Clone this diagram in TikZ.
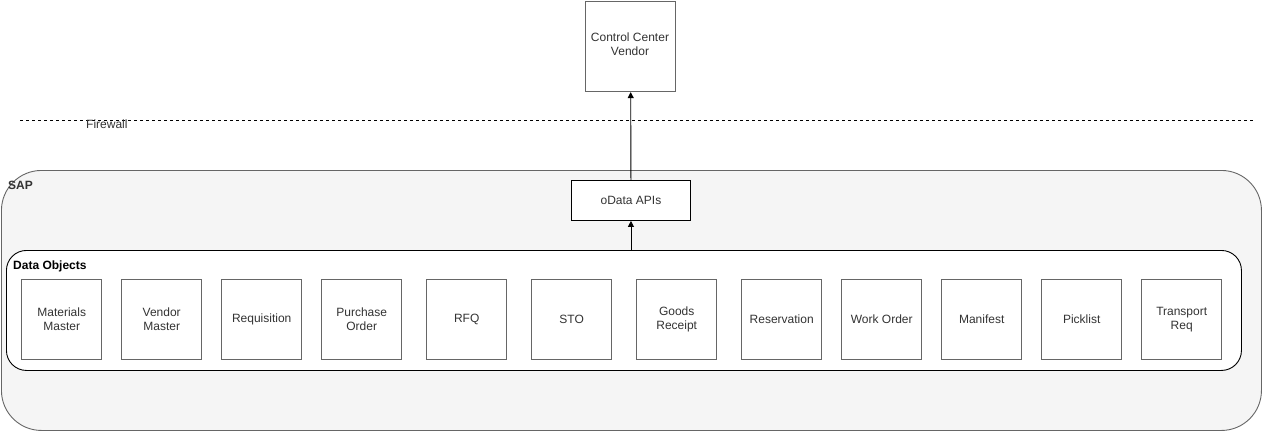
\documentclass[tikz,border=0pt]{standalone}
\usepackage{fontspec}
\setmainfont{Liberation Sans}
\usetikzlibrary{arrows.meta}
\definecolor{sapfill}{HTML}{F5F5F5}
\definecolor{sapline}{HTML}{666666}
\definecolor{txt}{HTML}{333333}
\begin{document}
\begin{tikzpicture}[x=1pt,y=-1pt,
  font=\fontsize{12}{14}\selectfont,
  objbox/.style={draw=sapline,line width=1.4pt,fill=white,minimum width=80pt,minimum height=80pt,inner sep=0pt,align=center,text=txt,anchor=north west},
  arr/.style={-{Triangle[length=6pt,width=6pt]},line width=0.9pt}]
\useasboundingbox (0,0) rectangle (1262,431);
% SAP container
\node[draw=sapline,fill=sapfill,rounded corners=40pt,line width=0.9pt,minimum width=1260pt,minimum height=260pt,anchor=north west,inner sep=0pt] (sap) at (1,170) {};
\node[anchor=north west,font=\fontsize{12}{14}\selectfont\bfseries,text=txt,inner sep=0pt] (saplbl) at (8,181) {SAP};
% Data Objects container
\node[draw=black,fill=white,rounded corners=20pt,line width=0.9pt,minimum width=1235pt,minimum height=120pt,anchor=north west,inner sep=0pt] (dobj) at (6,250) {};
\node[anchor=north west,font=\fontsize{12}{14}\selectfont\bfseries,text=black,inner sep=0pt] (dobjlbl) at (13,261) {Data Objects};
% boxes
\node[objbox] (b1) at (21,279) {Materials\\Master};
\node[objbox] (b2) at (121,279) {Vendor\\Master};
\node[objbox] (b3) at (221,279) {Requisition};
\node[objbox] (b4) at (321,279) {Purchase\\Order};
\node[objbox] (b5) at (426,279) {RFQ};
\node[objbox] (b6) at (531,279) {STO};
\node[objbox] (b7) at (636,279) {Goods\\Receipt};
\node[objbox] (b8) at (741,279) {Reservation};
\node[objbox] (b9) at (841,279) {Work Order};
\node[objbox] (b10) at (941,279) {Manifest};
\node[objbox] (b11) at (1041,279) {Picklist};
\node[objbox] (b12) at (1141,279) {Transport\\Req};
% oData
\node[draw=black,fill=white,line width=0.9pt,minimum width=119pt,minimum height=40pt,inner sep=0pt,anchor=north west,text=txt] (odata) at (571,180) {oData APIs};
% Control Center
\node[draw=sapline,fill=white,line width=1.4pt,minimum width=90pt,minimum height=90pt,inner sep=0pt,anchor=north west,align=center,text=txt] (ccv) at (585,0.7) {};
\node[align=center,text=txt,inner sep=0pt] (ccvlbl) at (630,44) {Control Center\\Vendor};
% firewall
\coordinate (fw1) at (20,120);
\coordinate (fw2) at (1255,120);
\draw[line width=0.9pt,dash pattern=on 3pt off 3pt] (fw1) -- (fw2);
\node[anchor=west,text=txt,inner sep=0pt] (fwlbl) at (86,124.5) {Firewall};
% arrows
\draw[arr] (dobj.north -| odata.south) -- (odata.south);
\draw[arr] (odata.north) -- (ccv.south);
\end{tikzpicture}
\end{document}
